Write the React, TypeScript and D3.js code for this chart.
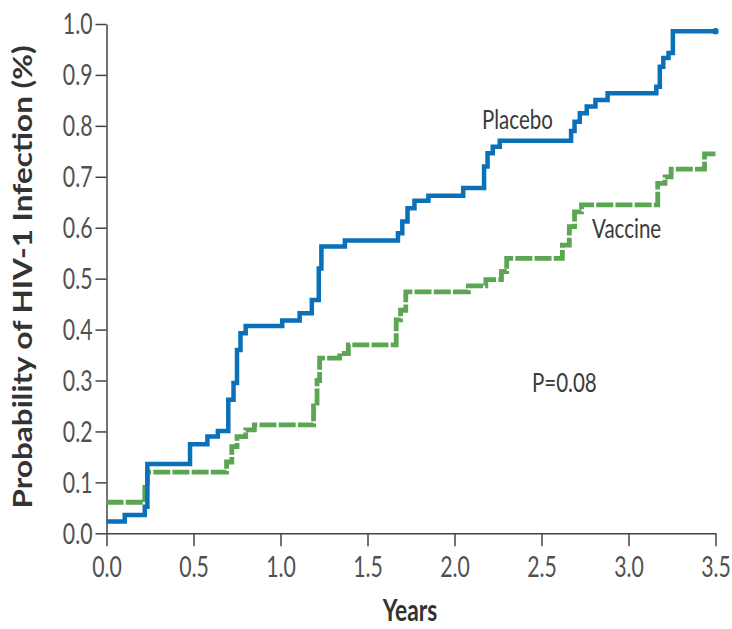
import React, { useEffect, useRef } from 'react';
import * as d3 from 'd3';

// Kaplan-Meier style step data: [years, probability]
const placeboTimes = [0, 0.105, 0.22, 0.235, 0.48, 0.58, 0.64, 0.70, 0.73, 0.75, 0.77, 0.80, 1.01, 1.11, 1.18, 1.22, 1.235, 1.37, 1.675, 1.70, 1.73, 1.77, 1.85, 2.05, 2.17, 2.19, 2.22, 2.26, 2.67, 2.69, 2.72, 2.76, 2.81, 2.88, 3.16, 3.18, 3.20, 3.23, 3.255, 3.5];
const placeboValues = [0.023, 0.036, 0.052, 0.136, 0.175, 0.19, 0.201, 0.262, 0.295, 0.36, 0.393, 0.407, 0.418, 0.432, 0.458, 0.52, 0.563, 0.575, 0.589, 0.612, 0.638, 0.653, 0.663, 0.678, 0.72, 0.746, 0.759, 0.771, 0.79, 0.808, 0.825, 0.838, 0.851, 0.864, 0.877, 0.916, 0.933, 0.943, 0.986, 0.986];

const vaccineTimes = [0, 0.22, 0.235, 0.69, 0.72, 0.75, 0.80, 0.85, 1.19, 1.21, 1.225, 1.34, 1.39, 1.665, 1.69, 1.72, 2.08, 2.18, 2.27, 2.30, 2.62, 2.66, 2.69, 2.73, 3.168, 3.21, 3.245, 3.437, 3.5];
const vaccineValues = [0.061, 0.09, 0.12, 0.14, 0.17, 0.19, 0.203, 0.213, 0.25, 0.30, 0.344, 0.353, 0.37, 0.419, 0.438, 0.474, 0.486, 0.498, 0.514, 0.54, 0.566, 0.602, 0.631, 0.645, 0.687, 0.70, 0.715, 0.745, 0.745];

const xTicks = [0, 0.5, 1.0, 1.5, 2.0, 2.5, 3.0, 3.5];
const yTicks = [0, 0.1, 0.2, 0.3, 0.4, 0.5, 0.6, 0.7, 0.8, 0.9, 1.0];

const BLUE = '#0a70b8';
const GREEN = '#5ca553';
const FONT = 'Lato, sans-serif';
const SX = 0.76; // horizontal squeeze of the original artwork

export default function App() {
  const ref = useRef<SVGSVGElement>(null);

  useEffect(() => {
    const svg = d3.select(ref.current);
    svg.selectAll('*').remove();

    const x = d3.scaleLinear().domain([0, 3.5]).range([106.5, 715.5]);
    const y = d3.scaleLinear().domain([0, 1]).range([533.3, 24]);

    const line = d3.line<[number, number]>()
      .x(d => x(d[0]))
      .y(d => y(d[1]))
      .curve(d3.curveStepAfter);

    // y axis
    const ya = svg.append('g')
      .attr('transform', `translate(${x(0)},0)`)
      .call(d3.axisLeft(y).tickValues(yTicks).tickSize(11).tickSizeOuter(0).tickFormat(d3.format('.1f')));
    ya.select('.domain').attr('stroke', '#444').attr('stroke-width', 1.5);
    ya.selectAll('.tick line').attr('stroke', '#444').attr('stroke-width', 1.5);
    ya.selectAll('.tick text')
      .attr('font-family', FONT)
      .attr('font-size', 28)
      .attr('fill', '#505050')
      .attr('x', -14 / SX)
      .attr('dy', '0.35em')
      .attr('transform', `scale(${SX},1)`);

    // x axis
    const xa = svg.append('g')
      .attr('transform', `translate(0,${y(0)})`)
      .call(d3.axisBottom(x).tickValues(xTicks).tickSize(13).tickSizeOuter(0).tickFormat(d3.format('.1f')));
    xa.select('.domain').attr('stroke', '#444').attr('stroke-width', 1.5);
    xa.selectAll('.tick line').attr('stroke', '#444').attr('stroke-width', 1.5);
    xa.selectAll('.tick text')
      .attr('font-family', FONT)
      .attr('font-size', 28)
      .attr('fill', '#505050')
      .attr('y', 24)
      .attr('transform', `scale(${SX},1)`);

    // survival curves
    const vaccine = vaccineTimes.map((t, i) => [t, vaccineValues[i]] as [number, number]);
    const placebo = placeboTimes.map((t, i) => [t, placeboValues[i]] as [number, number]);

    svg.append('path')
      .datum(vaccine)
      .attr('d', line)
      .attr('fill', 'none')
      .attr('stroke', GREEN)
      .attr('stroke-width', 4.8)
      .attr('stroke-dasharray', '17 2.2');

    svg.append('path')
      .datum(placebo)
      .attr('d', line)
      .attr('fill', 'none')
      .attr('stroke', BLUE)
      .attr('stroke-width', 4.5);

    const last = placebo[placebo.length - 1];
    svg.append('circle')
      .attr('cx', x(last[0]))
      .attr('cy', y(last[1]))
      .attr('r', 3.2)
      .attr('fill', BLUE);

    // labels
    const label = (txt: string, px: number, py: number, size: number, weight: string, anchor: string, color: string) => {
      svg.append('text')
        .attr('transform', `translate(${px},${py}) scale(${SX},1)`)
        .attr('font-family', FONT)
        .attr('font-size', size)
        .attr('font-weight', weight)
        .attr('text-anchor', anchor)
        .attr('fill', color)
        .text(txt);
    };
    label('Placebo', 482, 129, 27, 'normal', 'start', '#3a3a3a');
    label('Vaccine', 592, 238, 27, 'normal', 'start', '#3a3a3a');
    label('P=0.08', 532, 392, 27, 'normal', 'start', '#3a3a3a');
    label('Years', 410, 621, 30, 'bold', 'middle', '#333');

    svg.append('text')
      .attr('transform', `translate(32,277) rotate(-90) scale(1.21,1)`)
      .attr('font-family', FONT)
      .attr('font-size', 26)
      .attr('font-weight', 'bold')
      .attr('text-anchor', 'middle')
      .attr('fill', '#333')
      .text('Probability of HIV-1 Infection (%)');
  }, []);

  return (
    <svg ref={ref} width={732} height={629}
      style={{ position: 'absolute', left: 0, top: 0, background: '#fff' }} />
  );
}
